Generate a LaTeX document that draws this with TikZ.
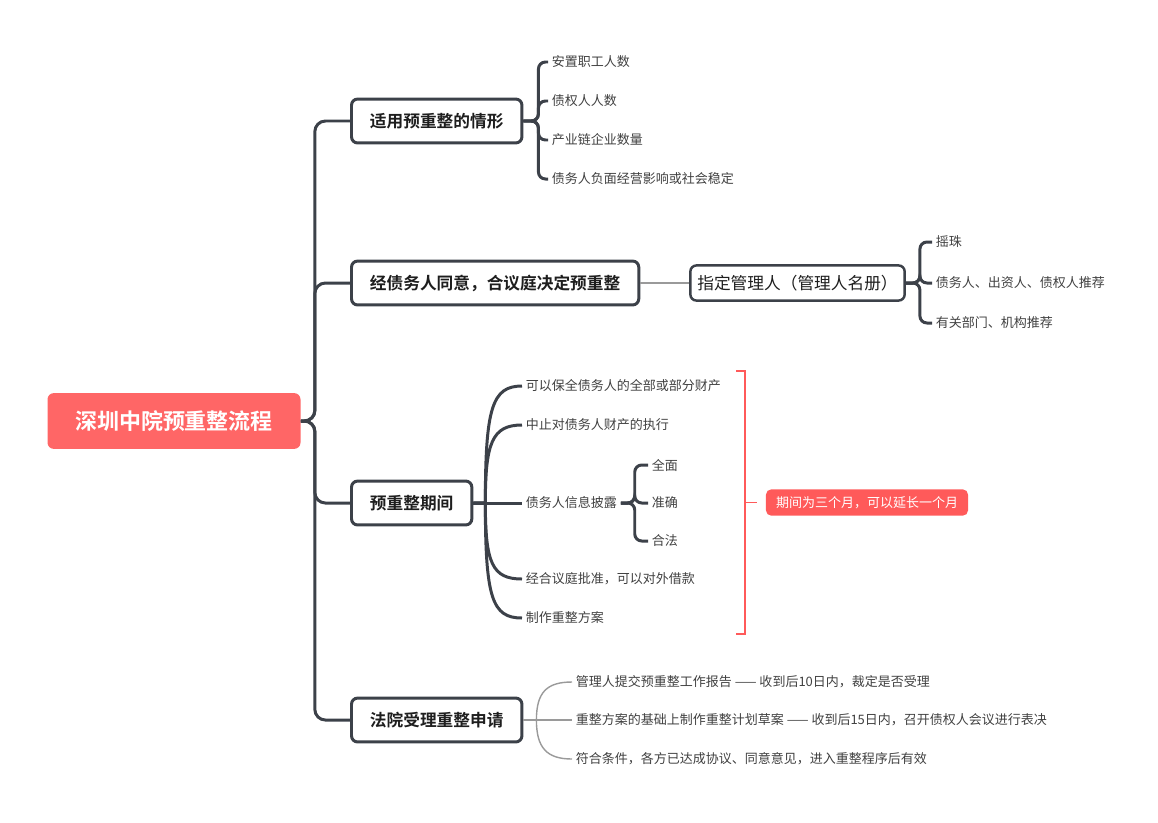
\documentclass[tikz,border=0pt]{standalone}
\usepackage{fontspec}
\setmainfont{Noto Sans CJK SC}[BoldFont={Noto Sans CJK SC Bold}]
\usepackage{tikz}
\usetikzlibrary{positioning}

\definecolor{lineGray}{HTML}{3C4149}
\definecolor{thinGray}{HTML}{9A9A9A}
\definecolor{textDark}{HTML}{1E1E1E}
\definecolor{leafText}{HTML}{404040}
\definecolor{rootRed}{HTML}{FF6666}
\definecolor{markRed}{HTML}{FF5A5A}

\begin{document}
\begin{tikzpicture}[x=0.02cm,y=-0.02cm,
	rootbox/.style={fill=rootRed,rounded corners=3.5pt,text=white,font=\fontsize{12.5pt}{14pt}\selectfont\bfseries,minimum width=144pt,minimum height=31.7pt},
	mainbox/.style={draw=lineGray,line width=1.7pt,rounded corners=3.5pt,fill=white,text=textDark,font=\fontsize{9.5pt}{11pt}\selectfont\bfseries,minimum height=25pt,inner xsep=10.5pt,anchor=west},
	mgrbox/.style={draw=lineGray,line width=1.4pt,rounded corners=3.5pt,fill=white,text=textDark,font=\fontsize{9.5pt}{11pt}\selectfont,minimum width=122pt,minimum height=20pt},
	leaf/.style={anchor=west,inner xsep=2pt,inner ysep=1pt,text=leafText,font=\fontsize{7.4pt}{9pt}\selectfont},
	redlabel/.style={fill=markRed,rounded corners=3pt,text=white,font=\fontsize{7.4pt}{9pt}\selectfont,minimum width=115pt,minimum height=15pt},
	link/.style={draw=lineGray,line width=1.7pt,rounded corners=4pt},
	curvelink/.style={draw=lineGray,line width=1.7pt},
	thinlink/.style={draw=thinGray,line width=0.8pt},
	redline/.style={draw=markRed,line width=1.1pt}]
	\useasboundingbox (0,0) rectangle (1158,822);

	% root and main topics
	\node[rootbox] (root) at (174,421) {深圳中院预重整流程};
	\node[mainbox] (b1) at (350,121) {适用预重整的情形};
	\node[mainbox] (b2) at (350,283) {经债务人同意，合议庭决定预重整};
	\node[mainbox] (b3) at (350,503) {预重整期间};
	\node[mainbox] (b4) at (350,720) {法院受理重整申请};

	\draw[link,rounded corners=6pt] (root.east) -- ++(14,0) |- (b1.west);
	\draw[link,rounded corners=6pt] (root.east) -- ++(14,0) |- (b2.west);
	\draw[link,rounded corners=6pt] (root.east) -- ++(14,0) |- (b3.west);
	\draw[link,rounded corners=6pt] (root.east) -- ++(14,0) |- (b4.west);

	% 适用预重整的情形
	\node[leaf] (l11) at (548,62) {安置职工人数};
	\node[leaf] (l12) at (548,101) {债权人人数};
	\node[leaf] (l13) at (548,140) {产业链企业数量};
	\node[leaf] (l14) at (548,179) {债务人负面经营影响或社会稳定};
	\draw[link] (b1.east) -- ++(15,0) |- (l11.west);
	\draw[link] (b1.east) -- ++(15,0) |- (l12.west);
	\draw[link] (b1.east) -- ++(15,0) |- (l13.west);
	\draw[link] (b1.east) -- ++(15,0) |- (l14.west);

	% 经债务人同意
	\node[mgrbox] (mgr) at (797.5,283) {指定管理人（管理人名册）};
	\draw[thinlink] (b2.east) -- (mgr.west);
	\node[leaf] (l21) at (932,242) {摇珠};
	\node[leaf] (l22) at (932,283) {债务人、出资人、债权人推荐};
	\node[leaf] (l23) at (932,323) {有关部门、机构推荐};
	\draw[link] (mgr.east) -- ++(14,0) |- (l21.west);
	\draw[link] (mgr.east) -- ++(14,0) |- (l22.west);
	\draw[link] (mgr.east) -- ++(14,0) |- (l23.west);

	% 预重整期间
	\node[leaf] (l31) at (522,386) {可以保全债务人的全部或部分财产};
	\node[leaf] (l32) at (522,425) {中止对债务人财产的执行};
	\node[leaf] (l33) at (522,503) {债务人信息披露};
	\node[leaf] (l34) at (522,579) {经合议庭批准，可以对外借款};
	\node[leaf] (l35) at (522,618) {制作重整方案};
	\draw[curvelink] (b3.east) -- ++(12,0) .. controls +(0,-95) and +(-30,0) .. (l31.west);
	\draw[curvelink] (b3.east) -- ++(12,0) .. controls +(0,-60) and +(-30,0) .. (l32.west);
	\draw[curvelink] (b3.east) -- (l33.west);
	\draw[curvelink] (b3.east) -- ++(12,0) .. controls +(0,60) and +(-30,0) .. (l34.west);
	\draw[curvelink] (b3.east) -- ++(12,0) .. controls +(0,95) and +(-30,0) .. (l35.west);
	\node[leaf] (l331) at (648,465) {全面};
	\node[leaf] (l332) at (648,503) {准确};
	\node[leaf] (l333) at (648,541) {合法};
	\draw[link] (l33.east) -- ++(14,0) |- (l331.west);
	\draw[link] (l33.east) -- ++(14,0) |- (l332.west);
	\draw[link] (l33.east) -- ++(14,0) |- (l333.west);

	% 期间
	\draw[redline] (736,371) -- (745,371) -- (745,634) -- (736,634);
	\node[redlabel] (lab) at (867,502.5) {期间为三个月，可以延长一个月};
	\draw[redline] (lab.west) ++(-20,0) -- ++(11,0);

	% 法院受理重整申请
	\node[leaf] (l41) at (572,682) {管理人提交预重整工作报告 —— 收到后10日内，裁定是否受理};
	\node[leaf] (l42) at (572,720) {重整方案的基础上制作重整计划草案 —— 收到后15日内，召开债权人会议进行表决};
	\node[leaf] (l43) at (572,759) {符合条件，各方已达成协议、同意意见，进入重整程序后有效};
	\draw[thinlink] (b4.east) -- ++(13,0) .. controls +(0,-28) and +(-25,0) .. (l41.west);
	\draw[thinlink] (b4.east) -- (l42.west);
	\draw[thinlink] (b4.east) -- ++(13,0) .. controls +(0,28) and +(-25,0) .. (l43.west);
\end{tikzpicture}
\end{document}
